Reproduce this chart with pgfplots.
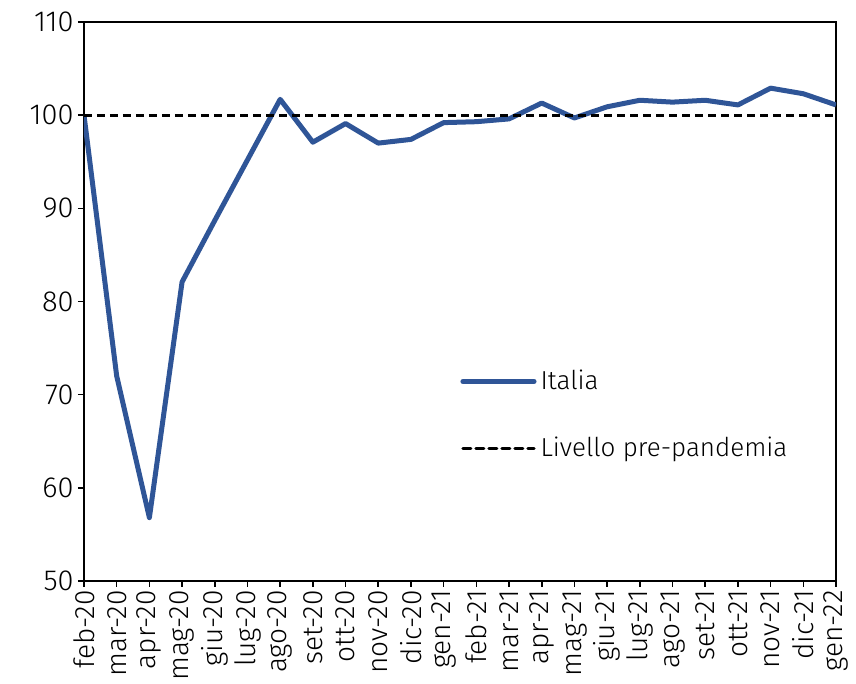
\documentclass[border=0pt]{standalone}
\usepackage{pgfplots}
\pgfplotsset{compat=1.18}
\usepackage{fontspec}
\setmainfont{Fira Sans Light}
\definecolor{itblue}{RGB}{47,85,151}
\begin{document}
\begin{tikzpicture}
\useasboundingbox (-42pt,-51.5pt) rectangle (386pt,290.5pt);
\begin{axis}[
  at={(0,0)}, anchor=south west,
  scale only axis,
  width=376pt, height=279.5pt,
  xmin=0, xmax=23, ymin=50, ymax=110,
  ytick={50,60,...,110},
  xtick={0,...,23},
  xticklabels={feb-20,mar-20,apr-20,mag-20,giu-20,lug-20,ago-20,set-20,ott-20,nov-20,dic-20,gen-21,feb-21,mar-21,apr-21,mag-21,giu-21,lug-21,ago-21,set-21,ott-21,nov-21,dic-21,gen-22},
  xticklabel style={rotate=90, anchor=east, font=\fontsize{14}{16}\selectfont, inner sep=1pt, xshift=-0.5pt},
  yticklabel style={font=\fontsize{14.5}{16}\selectfont, inner sep=2pt},
  /pgf/number format/assume math mode=true,
  tick align=outside,
  tick pos=left,
  major tick length=3pt,
  tick style={black, line width=0.8pt},
  axis line style={black, line width=1pt},
  legend style={draw=none, fill=none, at={(0.5,0.385)}, anchor=north west,
    font=\fontsize{13}{15}\selectfont, row sep=18pt, inner sep=0pt},
  legend cell align=left,
  legend image code/.code={\draw[#1, line cap=round] (0cm,0cm) -- (1.25cm,0cm);},
]
\addplot[itblue, line width=2.5pt, line join=round] coordinates {
(0,100) (1,72.0) (2,56.8) (3,82.1) (4,88.7) (5,95.2) (6,101.7) (7,97.1)
(8,99.1) (9,97.0) (10,97.4) (11,99.2) (12,99.3) (13,99.6) (14,101.3)
(15,99.7) (16,100.9) (17,101.6) (18,101.4) (19,101.6) (20,101.1)
(21,102.9) (22,102.3) (23,101.1)};
\addlegendentry{Italia}
\addplot[black, line width=1.5pt, dash pattern=on 4pt off 2.5pt] coordinates {(0,100) (23,100)};
\addlegendentry{Livello pre-pandemia}
\end{axis}
\end{tikzpicture}
\end{document}
